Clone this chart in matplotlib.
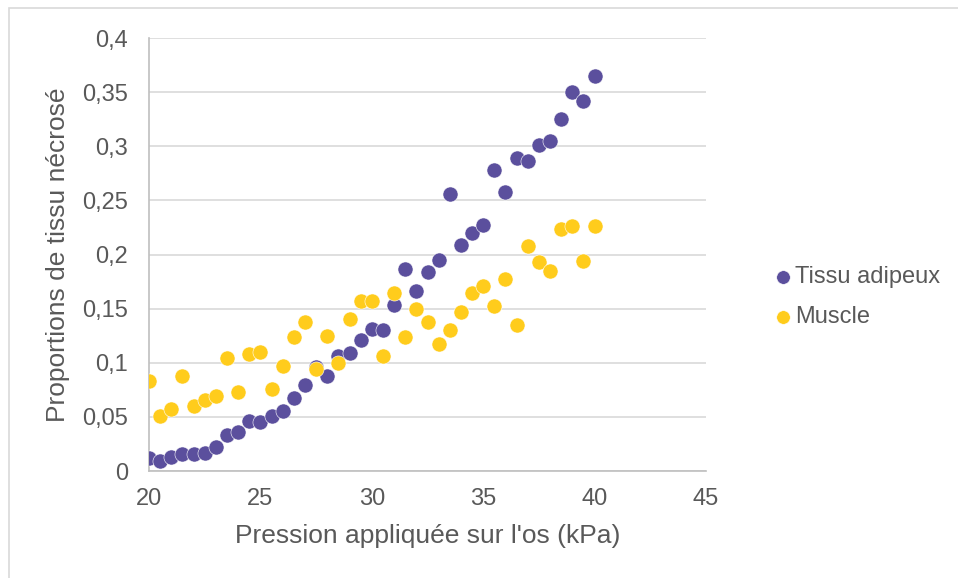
import matplotlib
matplotlib.use("Agg")
import matplotlib.pyplot as plt
from matplotlib.patches import Rectangle
from matplotlib.ticker import FuncFormatter, MultipleLocator

plt.rcParams["font.family"] = ["Liberation Sans", "DejaVu Sans"]

# pression appliquée (kPa)
pression = [20 + 0.5 * i for i in range(41)]

tissu_adipeux = [
    0.012, 0.009, 0.013, 0.016, 0.016, 0.017, 0.022, 0.033, 0.036, 0.046,
    0.045, 0.051, 0.055, 0.067, 0.079, 0.096, 0.088, 0.106, 0.109, 0.121,
    0.131, 0.130, 0.153, 0.187, 0.166, 0.184, 0.195, 0.256, 0.209, 0.220,
    0.227, 0.278, 0.258, 0.289, 0.286, 0.301, 0.305, 0.325, 0.350, 0.342,
    0.365,
]

muscle = [
    0.083, 0.051, 0.057, 0.088, 0.060, 0.066, 0.069, 0.104, 0.073, 0.108,
    0.110, 0.076, 0.097, 0.124, 0.138, 0.094, 0.125, 0.100, 0.140, 0.157,
    0.157, 0.106, 0.164, 0.124, 0.150, 0.138, 0.117, 0.130, 0.147, 0.164,
    0.171, 0.152, 0.177, 0.135, 0.208, 0.193, 0.185, 0.224, 0.226, 0.194,
    0.226,
]

VIOLET = "#5B4F9D"
JAUNE = "#FFCC1C"
TEXTE = "#595959"

fig = plt.figure(figsize=(9.58, 5.78), dpi=100)
ax = fig.add_axes([149 / 958, 1 - 471 / 578, (706 - 149) / 958, (471 - 38) / 578])

# cadre du graphique
fig.patches.append(Rectangle((9 / 958, -0.01), 1.0, 1 - 8 / 578 + 0.01,
                             transform=fig.transFigure, fill=False,
                             edgecolor="#D9D9D9", linewidth=1.2))

ax.scatter(pression, tissu_adipeux, s=118, color=VIOLET, edgecolors="white",
           linewidths=0.4, label="Tissu adipeux", zorder=3)
ax.scatter(pression, muscle, s=118, color=JAUNE, edgecolors="white",
           linewidths=0.4, label="Muscle", zorder=3)

ax.set_xlim(20, 45)
ax.set_ylim(0, 0.4)
ax.xaxis.set_major_locator(MultipleLocator(5))
ax.yaxis.set_major_locator(MultipleLocator(0.05))
ax.yaxis.set_major_formatter(FuncFormatter(lambda v, _: f"{v:.2f}".rstrip("0").rstrip(".").replace(".", ",")))

ax.grid(axis="y", color="#D9D9D9", linewidth=1.2, zorder=0)
ax.set_axisbelow(True)
for side in ("top", "right"):
    ax.spines[side].set_visible(False)
for side in ("left", "bottom"):
    ax.spines[side].set_color("#BFBFBF")
    ax.spines[side].set_linewidth(1.2)

ax.tick_params(axis="both", length=0, labelsize=17, labelcolor=TEXTE)
ax.tick_params(axis="y", pad=15)
ax.tick_params(axis="x", pad=12)

ax.set_xlabel("Pression appliquée sur l'os (kPa)", fontsize=19, color=TEXTE, labelpad=10)
ax.set_ylabel("Proportions de tissu nécrosé", fontsize=19, color=TEXTE, labelpad=9)

leg = fig.legend(loc="center left", bbox_to_anchor=(774 / 958, 1 - 297 / 578),
                 frameon=False, fontsize=17, labelcolor=TEXTE, handlelength=0.8,
                 handletextpad=0.1, labelspacing=0.75, markerscale=0.9,
                 borderaxespad=0, borderpad=0)

fig.savefig("out.png", dpi=100)
